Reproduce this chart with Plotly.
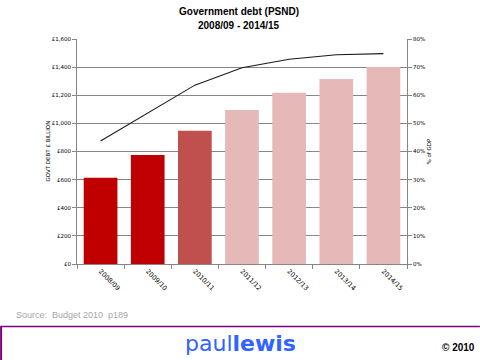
import plotly.graph_objects as go

years = ["2008/09", "2009/10", "2010/11", "2011/12", "2012/13", "2013/14", "2014/15"]
debt_bn = [614, 775, 948, 1095, 1218, 1316, 1401]
pct_gdp = [43.7, 53.6, 63.6, 69.8, 72.8, 74.4, 74.8]
bar_colors = ["#C00000", "#C00000", "#C0504D", "#E6B9B8", "#E6B9B8", "#E6B9B8", "#E6B9B8"]
left_ticks = [0, 200, 400, 600, 800, 1000, 1200, 1400, 1600]
left_labels = ["£0", "£200", "£400", "£600", "£800", "£1,000", "£1,200", "£1,400", "£1,600"]
right_ticks = [0, 10, 20, 30, 40, 50, 60, 70, 80]
right_labels = ["0%", "10%", "20%", "30%", "40%", "50%", "60%", "70%", "80%"]

fig = go.Figure()
fig.add_trace(go.Bar(x=years, y=debt_bn, marker=dict(color=bar_colors, line=dict(width=0)),
                     yaxis="y", hoverinfo="skip"))
fig.add_trace(go.Scatter(x=years, y=pct_gdp, mode="lines", line=dict(color="#1a1a1a", width=1.1),
                         yaxis="y2", hoverinfo="skip"))

ytickfont = dict(family="DejaVu Sans, Verdana", size=5.5, color="#000000")
xtickfont = dict(family="DejaVu Sans, Verdana", size=6.5, color="#000000")
fig.update_layout(
    width=480, height=360,
    margin=dict(l=77, r=73, t=39, b=96, autoexpand=False),
    paper_bgcolor="white", plot_bgcolor="white",
    showlegend=False, bargap=0.285,
    xaxis=dict(type="category", tickangle=45, tickfont=xtickfont, showline=True, linecolor="#868686",
               linewidth=1, ticks="outside", tickson="boundaries", ticklen=4, tickcolor="#868686",
               showgrid=False, mirror=False, fixedrange=True),
    yaxis=dict(range=[0, 1600], tickvals=left_ticks, ticktext=left_labels, tickfont=ytickfont,
               showline=True, linecolor="#868686", linewidth=1, ticks="outside", ticklen=4,
               tickcolor="#868686", showgrid=True, gridcolor="#868686", gridwidth=1, zeroline=False,
               fixedrange=True),
    yaxis2=dict(range=[0, 80], tickvals=right_ticks, ticktext=right_labels, tickfont=ytickfont,
                overlaying="y", side="right", showline=True, linecolor="#868686", linewidth=1,
                ticks="outside", ticklen=4, tickcolor="#868686", showgrid=False, zeroline=False,
                fixedrange=True),
    annotations=[
        dict(text="<b>Government debt (PSND)</b>", xref="paper", yref="paper", x=0.492, y=1.12,
             xanchor="center", yanchor="middle", showarrow=False,
             font=dict(family="Liberation Sans, Arial", size=10, color="#000")),
        dict(text="<b>2008/09 - 2014/15</b>", xref="paper", yref="paper", x=0.492, y=1.062,
             xanchor="center", yanchor="middle", showarrow=False,
             font=dict(family="Liberation Sans, Arial", size=10, color="#000")),
        dict(text="GOVT DEBT £ BILLION", xref="paper", yref="paper", x=-0.106, y=0.5,
             textangle=-90, showarrow=False, font=dict(family="DejaVu Sans, Verdana", size=5.5, color="#000")),
        dict(text="% of GDP", xref="paper", yref="paper", x=1.079, y=0.5,
             textangle=-90, showarrow=False, font=dict(family="DejaVu Sans, Verdana", size=5.5, color="#000")),
        dict(text="Source:  Budget 2010  p189", xref="paper", yref="paper", x=-0.192, y=-0.227,
             xanchor="left", yanchor="middle", showarrow=False,
             font=dict(family="Liberation Sans, Arial", size=9, color="#A6A6A6")),
        dict(text="paul<b>lewis</b>", xref="paper", yref="paper", x=0.494, y=-0.353,
             xanchor="center", yanchor="middle", showarrow=False,
             font=dict(family="DejaVu Sans, Verdana", size=22, color="#3063FF")),
        dict(text="<b>© 2010</b>", xref="paper", yref="paper", x=1.155, y=-0.369,
             xanchor="center", yanchor="middle", showarrow=False,
             font=dict(family="Liberation Sans, Arial", size=10, color="#000")),
    ],
    shapes=[
        dict(type="line", xref="paper", yref="paper", x0=-0.233, x1=1.221, y0=-0.278, y1=-0.278,
             line=dict(color="#800080", width=1.5)),
        dict(type="line", xref="paper", yref="paper", x0=-0.230, x1=-0.230, y0=-0.278, y1=-0.45,
             line=dict(color="#800080", width=2)),
    ],
)
fig.write_html("out.html", config={"displayModeBar": False, "staticPlot": True},
               post_script="document.body.style.margin='0';document.body.style.overflow='hidden';")
